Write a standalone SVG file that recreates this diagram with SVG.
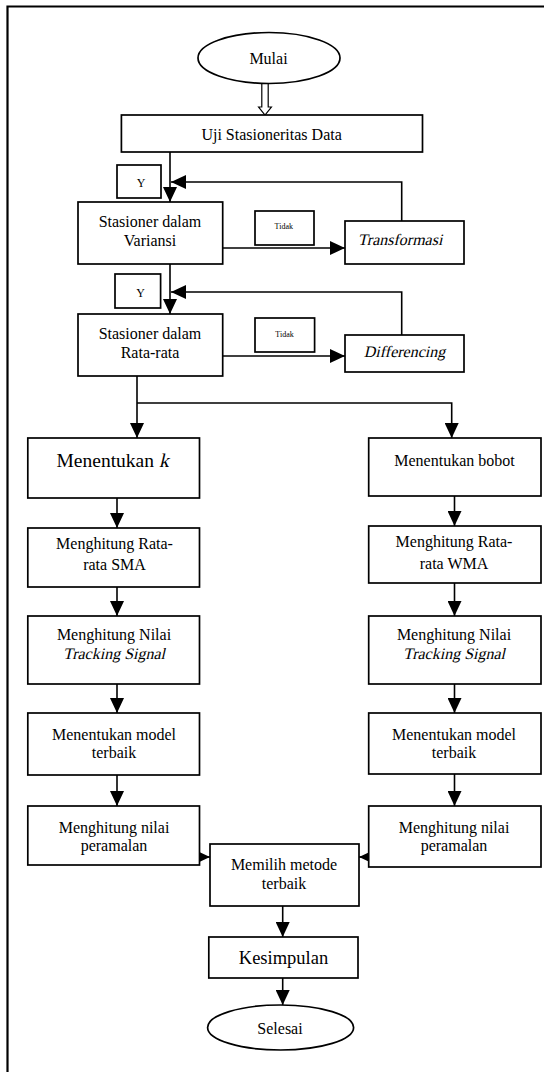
<svg xmlns="http://www.w3.org/2000/svg" width="544" height="1072" viewBox="0 0 544 1072">
<defs>
<marker id="ah" markerUnits="userSpaceOnUse" markerWidth="15" markerHeight="14" refX="15" refY="7" orient="auto">
<path d="M0,0 L15,7 L0,14 z" fill="#000"/>
</marker>
<style>
.b{fill:#fff;stroke:#000;stroke-width:1.7}
.c{fill:none;stroke:#000;stroke-width:1.6}
text{font-family:"Liberation Serif","Times New Roman",serif;font-size:16px;fill:#000;text-anchor:middle}
.st{text-anchor:start}
.s{font-size:8px}
.y{font-size:12px}
.l{font-size:19.5px}
.k{font-size:18.5px}
</style>
</defs>
<rect width="544" height="1072" fill="#fff"/>
<path d="M7.5,1072 V6.5 H544" fill="none" stroke="#000" stroke-width="2.2"/>

<g id="connectors">
<path d="M261.8,84 V107 H258.6 L265,115 L271.4,107 H268.2 V84" fill="#fff" stroke="#000" stroke-width="1.2"/>
<path class="c" d="M170,152 V202" marker-end="url(#ah)"/>
<path class="c" d="M401.7,221 V182 H171" marker-end="url(#ah)"/>
<path class="c" d="M222.7,248 H345" marker-end="url(#ah)"/>
<path class="c" d="M170,264 V314" marker-end="url(#ah)"/>
<path class="c" d="M401.7,335 V292 H171" marker-end="url(#ah)"/>
<path class="c" d="M222.7,356 H345" marker-end="url(#ah)"/>
<path class="c" d="M137,376 V438" marker-end="url(#ah)"/>
<path class="c" d="M137,403 H451.7 V438" marker-end="url(#ah)"/>
<path class="c" d="M117,498 V528" marker-end="url(#ah)"/>
<path class="c" d="M117,587 V616" marker-end="url(#ah)"/>
<path class="c" d="M117,684 V713" marker-end="url(#ah)"/>
<path class="c" d="M117,775 V806" marker-end="url(#ah)"/>
<path class="c" d="M454.5,496 V526" marker-end="url(#ah)"/>
<path class="c" d="M454.5,583 V616" marker-end="url(#ah)"/>
<path class="c" d="M454.5,684 V713" marker-end="url(#ah)"/>
<path class="c" d="M454.5,774 V806" marker-end="url(#ah)"/>
<path class="c" d="M199.5,857 H210" marker-end="url(#ah)"/>
<path class="c" d="M368.7,857 H359" marker-end="url(#ah)"/>
<path class="c" d="M282.7,906 V937" marker-end="url(#ah)"/>
<path class="c" d="M282.7,978 V1005" marker-end="url(#ah)"/>
</g>

<g id="mulai"><ellipse class="b" cx="269" cy="58" rx="71" ry="25.5"/><text x="268.5" y="63.5">Mulai</text></g>
<g id="uji"><rect class="b" x="121.4" y="115" width="301.1" height="37"/><text x="271.6" y="140">Uji Stasioneritas Data</text></g>
<g id="y1"><rect class="b" x="117" y="165" width="44" height="33"/><text class="y" x="141" y="186.5">Y</text></g>
<g id="variansi"><rect class="b" x="78" y="202" width="144.7" height="62"/><text x="150" y="227">Stasioner dalam</text><text x="150" y="246">Variansi</text></g>
<g id="tidak1"><rect class="b" x="255" y="211" width="59" height="34"/><text class="s" x="283.8" y="229">Tidak</text></g>
<g id="transformasi"><rect class="b" x="345" y="221" width="119" height="43"/><text transform="translate(400,245) skewX(-13)">Transformasi</text></g>
<g id="y2"><rect class="b" x="115" y="274" width="45.6" height="34"/><text class="y" x="140.5" y="296.5">Y</text></g>
<g id="ratarata"><rect class="b" x="78" y="314" width="144.7" height="62"/><text x="150" y="339">Stasioner dalam</text><text x="150" y="358">Rata-rata</text></g>
<g id="tidak2"><rect class="b" x="255" y="318" width="59.6" height="34"/><text class="s" x="284.5" y="336.5">Tidak</text></g>
<g id="differencing"><rect class="b" x="345" y="335" width="119" height="37"/><text transform="translate(404.5,357) skewX(-13)">Differencing</text></g>

<g id="menentukan-k"><rect class="b" x="27.8" y="438" width="171.7" height="60"/><text class="l st" x="56.5" y="466.5">Menentukan</text><text class="l st" transform="translate(159,466.5) skewX(-13)">k</text></g>
<g id="sma"><rect class="b" x="27.8" y="528" width="171.7" height="59"/><text x="114.5" y="548.5">Menghitung Rata-</text><text x="114.5" y="570">rata SMA</text></g>
<g id="ts-left"><rect class="b" x="27.8" y="616" width="171.7" height="68"/><text x="114" y="640">Menghitung Nilai</text><text transform="translate(114,659) skewX(-13)">Tracking Signal</text></g>
<g id="model-left"><rect class="b" x="27.8" y="713" width="171.7" height="62"/><text x="114" y="740">Menentukan model</text><text x="114" y="757.5">terbaik</text></g>
<g id="ramal-left"><rect class="b" x="27.8" y="806" width="171.7" height="59"/><text x="114" y="833">Menghitung nilai</text><text x="114" y="851">peramalan</text></g>

<g id="bobot"><rect class="b" x="368.7" y="438" width="172.3" height="58"/><text x="454.5" y="465.5">Menentukan bobot</text></g>
<g id="wma"><rect class="b" x="368.7" y="526" width="172.3" height="57"/><text x="454" y="547">Menghitung Rata-</text><text x="454" y="569">rata WMA</text></g>
<g id="ts-right"><rect class="b" x="368.7" y="616" width="172.3" height="68"/><text x="454" y="640">Menghitung Nilai</text><text transform="translate(454,659) skewX(-13)">Tracking Signal</text></g>
<g id="model-right"><rect class="b" x="368.7" y="713" width="172.3" height="61"/><text x="454" y="740">Menentukan model</text><text x="454" y="757.5">terbaik</text></g>
<g id="ramal-right"><rect class="b" x="368.7" y="806" width="172.3" height="61"/><text x="454" y="833">Menghitung nilai</text><text x="454" y="851">peramalan</text></g>

<g id="memilih"><rect class="b" x="210" y="844" width="149" height="62"/><text x="284" y="870">Memilih metode</text><text x="284" y="888.5">terbaik</text></g>
<g id="kesimpulan"><rect class="b" x="208.8" y="937" width="149.2" height="41"/><text class="k" x="283.5" y="964">Kesimpulan</text></g>
<g id="selesai"><ellipse class="b" cx="280.6" cy="1027.5" rx="73" ry="22.5"/><text x="280" y="1034">Selesai</text></g>
</svg>
